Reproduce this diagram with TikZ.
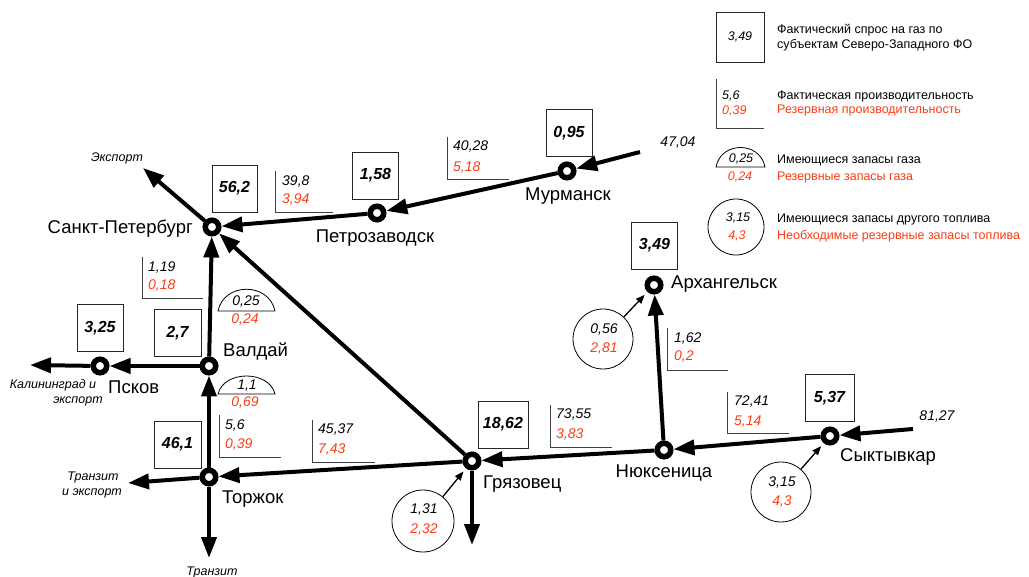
\documentclass[tikz,border=0pt]{standalone}
\usepackage{fontspec}
\setmainfont{Liberation Sans}
\usetikzlibrary{arrows.meta}
\definecolor{resred}{RGB}{250,60,20}
\newcommand{\fsz}[1]{\fontsize{#1}{#1}\selectfont}
\begin{document}
\begin{tikzpicture}[x=1pt,y=-1pt,
 town/.style={circle,draw=black,fill=white,line width=5.5pt,minimum size=13.5pt,inner sep=0pt},
 townlabel/.style={font=\fsz{18.5},inner sep=0pt},
 pipe/.style={line width=4pt,-{Triangle[length=21pt,width=15pt]}},
 demand/.style={draw=black!85,line width=0.9pt,minimum width=46pt,minimum height=47pt,font=\bfseries\itshape\fsz{16},inner sep=0pt},
 num/.style={font=\itshape\fsz{14},inner sep=0pt,anchor=west},
 rnum/.style={num,text=resred},
 cnum/.style={font=\itshape\fsz{14},inner sep=0pt},
 rcnum/.style={cnum,text=resred},
 bracket/.style={draw=black!75,line width=0.9pt},
 fuel/.style={circle,draw=black,line width=0.8pt,minimum size=61pt,inner sep=0pt},
 feed/.style={line width=1.3pt,-{Triangle[length=9pt,width=7pt]},shorten >=4pt},
 exitlabel/.style={font=\itshape\fsz{12.5},inner sep=0pt},
 legend/.style={font=\fsz{12.5},inner sep=0pt,anchor=west},
 rlegend/.style={legend,text=resred},
 dome/.style={draw=black,line width=0.8pt},
]
\useasboundingbox (0,0) rectangle (1029,577);

% ---------- towns ----------
\node[town] (spb) at (212,227) {};
\node[town] (petr) at (377,213) {};
\node[town] (murm) at (567,171) {};
\node[town] (arkh) at (654,285) {};
\node[town] (gryaz) at (472,461) {};
\node[town] (nyuk) at (664,450) {};
\node[town] (sykt) at (830,436) {};
\node[town] (valdai) at (209,366) {};
\node[town] (pskov) at (100,366) {};
\node[town] (torzh) at (209,477) {};

\node[townlabel,anchor=base east] (lspb) at (193,234) {Санкт-Петербург};
\node[townlabel,anchor=base] (lpetr) at (375,243) {Петрозаводск};
\node[townlabel,anchor=base] (lmurm) at (568,201) {Мурманск};
\node[townlabel,anchor=base west] (larkh) at (671,289) {Архангельск};
\node[townlabel,anchor=base west] (lgryaz) at (483,489) {Грязовец};
\node[townlabel,anchor=base] (lnyuk) at (664,477) {Нюксеница};
\node[townlabel,anchor=base west] (lsykt) at (840,461) {Сыктывкар};
\node[townlabel,anchor=base west] (lvaldai) at (223,357) {Валдай};
\node[townlabel,anchor=base west] (lpskov) at (108,394) {Псков};
\node[townlabel,anchor=base west] (ltorzh) at (222,503) {Торжок};

% ---------- free ends ----------
\coordinate (minlet) at (640,152);
\coordinate (sinlet) at (913,429);
\coordinate (export) at (143,168);
\coordinate (kalin) at (30,365);
\coordinate (transexp) at (128,483);
\coordinate (transit) at (209,558);
\coordinate (gdown) at (472,545);

% ---------- pipes ----------
\draw[pipe] (minlet) -- (murm);
\draw[pipe] (murm) -- (petr);
\draw[pipe] (petr) -- (spb);
\draw[pipe] (valdai) -- (spb);
\draw[pipe] (gryaz) -- (spb);
\draw[pipe] (spb) -- (export);
\draw[pipe] (valdai) -- (pskov);
\draw[pipe] (pskov) -- (kalin);
\draw[pipe] (torzh) -- (valdai);
\draw[pipe] (gryaz) -- (torzh);
\draw[pipe] (torzh) -- (transexp);
\draw[pipe] (torzh) -- (transit);
\draw[pipe] (gryaz) -- (gdown);
\draw[pipe] (nyuk) -- (gryaz);
\draw[pipe] (nyuk) -- (arkh);
\draw[pipe] (sykt) -- (nyuk);
\draw[pipe] (sinlet) -- (sykt);

% ---------- exit labels ----------
\node[exitlabel] (lexport) at (117,158) {Экспорт};
\node[exitlabel] (lkalin1) at (53,385) {Калининград и};
\node[exitlabel] (lkalin2) at (78,401) {экспорт};
\node[exitlabel] (ltrans1) at (93,477) {Транзит};
\node[exitlabel] (ltrans2) at (92,493) {и экспорт};
\node[exitlabel] (ltransit) at (212,572) {Транзит};
\node[cnum] (lm) at (678,143) {47,04};
\node[cnum] (ls) at (937,417) {81,27};

% ---------- demand boxes ----------
\node[demand,minimum width=45pt] (bspb) at (234.5,188.5) {56,2};
\node[demand] (bpetr) at (375.5,175.5) {1,58};
\node[demand] (bmurm) at (569,133) {0,95};
\node[demand] (barkh) at (654.5,245.5) {3,49};
\node[demand,minimum width=50pt] (bgryaz) at (503,424.5) {18,62};
\node[demand,minimum width=49pt] (bsykt) at (829.5,398) {5,37};
\node[demand] (bpskov) at (100,328) {3,25};
\node[demand,minimum width=47pt] (bvaldai) at (177.5,333) {2,7};
\node[demand,minimum width=47pt] (btorzh) at (177.5,444.5) {46,1};

% ---------- capacity brackets ----------
\draw[bracket] (275,171) -- (275,212) -- (333,212);
\node[num] (c1a) at (282,182) {39,8};
\node[rnum] (c1b) at (282,200) {3,94};

\draw[bracket] (447,137) -- (447,179) -- (509,179);
\node[num] (c2a) at (453,147) {40,28};
\node[rnum] (c2b) at (453,168) {5,18};

\draw[bracket] (142,257) -- (142,298) -- (203,298);
\node[num] (c3a) at (148,268) {1,19};
\node[rnum] (c3b) at (148,286) {0,18};

\draw[bracket] (219,415) -- (219,457) -- (281,457);
\node[num] (c4a) at (225,426) {5,6};
\node[rnum] (c4b) at (225,445) {0,39};

\draw[bracket] (312,420) -- (312,462) -- (375,462);
\node[num] (c5a) at (318,430) {45,37};
\node[rnum] (c5b) at (318,450) {7,43};

\draw[bracket] (550,405) -- (550,447) -- (612,447);
\node[num] (c6a) at (556,415) {73,55};
\node[rnum] (c6b) at (556,435) {3,83};

\draw[bracket] (667,328) -- (667,370) -- (728,370);
\node[num] (c7a) at (674,339) {1,62};
\node[rnum] (c7b) at (674,357) {0,2};

\draw[bracket] (727,392) -- (727,433) -- (789,433);
\node[num] (c8a) at (734,402) {72,41};
\node[rnum] (c8b) at (734,422) {5,14};

% ---------- gas storage domes ----------
\draw[dome] (218,311) .. controls (224,282) and (269,282) .. (275,311) -- cycle;
\node[cnum] (d1a) at (246,302) {0,25};
\node[rcnum] (d1b) at (245,320) {0,24};

\draw[dome] (218,394) .. controls (224,370) and (269,370) .. (275,394) -- cycle;
\node[cnum] (d2a) at (247,386) {1,1};
\node[rcnum] (d2b) at (245,403) {0,69};

% ---------- other fuel circles ----------
\node[fuel,minimum size=62pt] (fgryaz) at (423,521) {};
\node[cnum] (f1a) at (424,510) {1,31};
\node[rcnum] (f1b) at (424,530) {2,32};
\draw[feed] (fgryaz) -- (gryaz);

\node[fuel,minimum size=60pt] (farkh) at (603,339) {};
\node[cnum] (f2a) at (604,330) {0,56};
\node[rcnum] (f2b) at (604,349) {2,81};
\draw[feed] (farkh) -- (arkh);

\node[fuel,minimum size=60pt] (fsykt) at (781,492) {};
\node[cnum] (f3a) at (782,483) {3,15};
\node[rcnum] (f3b) at (782,502) {4,3};
\draw[feed] (fsykt) -- (sykt);

% ---------- legend ----------
\node[draw=black!85,line width=0.9pt,minimum width=48pt,minimum height=50pt,inner sep=0pt,font=\itshape\fsz{12.5}] (lgbox) at (740,37) {3,49};
\node[legend] (lg1a) at (777,30) {Фактический спрос на газ по};
\node[legend] (lg1b) at (777,45) {субъектам Северо-Западного ФО};

\draw[bracket] (716,79) -- (716,128) -- (764,128);
\node[font=\itshape\fsz{12.5},inner sep=0pt,anchor=west] (lg2n) at (722,96) {5,6};
\node[font=\itshape\fsz{12.5},inner sep=0pt,anchor=west,text=resred] (lg2r) at (722,111) {0,39};
\node[legend] (lg2a) at (777,96) {Фактическая производительность};
\node[rlegend] (lg2b) at (777,111) {Резервная производительность};

\draw[dome] (716,167) .. controls (721,141) and (760,141) .. (765,167) -- cycle;
\node[font=\itshape\fsz{12.5},inner sep=0pt] (lg3n) at (741,159) {0,25};
\node[font=\itshape\fsz{12.5},inner sep=0pt,text=resred] (lg3r) at (740,177) {0,24};
\node[legend] (lg3a) at (777,160) {Имеющиеся запасы газа};
\node[rlegend] (lg3b) at (777,177) {Резервные запасы газа};

\node[fuel,minimum size=56pt] (lgcirc) at (736,227) {};
\node[font=\itshape\fsz{12.5},inner sep=0pt] (lg4n) at (738,218) {3,15};
\node[font=\itshape\fsz{12.5},inner sep=0pt,text=resred] (lg4r) at (737,236) {4,3};
\node[legend] (lg4a) at (777,219) {Имеющиеся запасы другого топлива};
\node[rlegend] (lg4b) at (777,236) {Необходимые резервные запасы топлива};
\end{tikzpicture}
\end{document}
